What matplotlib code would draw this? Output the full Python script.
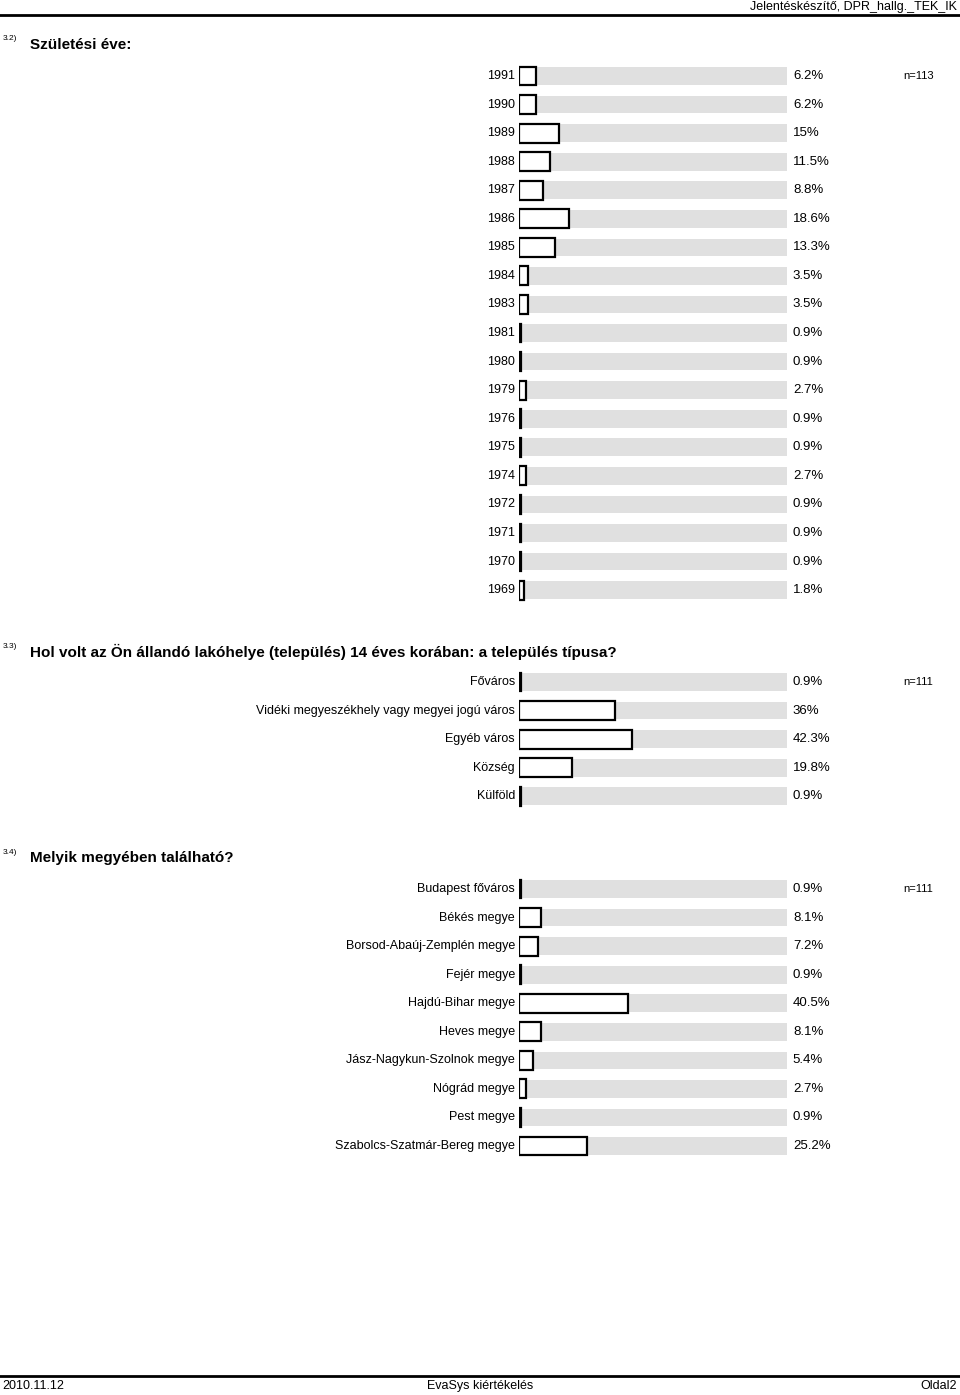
import matplotlib
matplotlib.use('Agg')
import matplotlib.pyplot as plt

plt.rcParams['font.family'] = ['Liberation Sans', 'DejaVu Sans']

# 3.2) Születési éve
evek = ['1991', '1990', '1989', '1988', '1987', '1986', '1985', '1984', '1983', '1981',
        '1980', '1979', '1976', '1975', '1974', '1972', '1971', '1970', '1969']
evek_pct = [6.2, 6.2, 15, 11.5, 8.8, 18.6, 13.3, 3.5, 3.5, 0.9,
            0.9, 2.7, 0.9, 0.9, 2.7, 0.9, 0.9, 0.9, 1.8]
evek_lbl = ['6.2%', '6.2%', '15%', '11.5%', '8.8%', '18.6%', '13.3%', '3.5%', '3.5%', '0.9%',
            '0.9%', '2.7%', '0.9%', '0.9%', '2.7%', '0.9%', '0.9%', '0.9%', '1.8%']

# 3.3) település típusa
tipus = ['Főváros', 'Vidéki megyeszékhely vagy megyei jogú város', 'Egyéb város', 'Község', 'Külföld']
tipus_pct = [0.9, 36, 42.3, 19.8, 0.9]
tipus_lbl = ['0.9%', '36%', '42.3%', '19.8%', '0.9%']

# 3.4) megye
megyek = ['Budapest főváros', 'Békés megye', 'Borsod-Abaúj-Zemplén megye', 'Fejér megye',
          'Hajdú-Bihar megye', 'Heves megye', 'Jász-Nagykun-Szolnok megye', 'Nógrád megye',
          'Pest megye', 'Szabolcs-Szatmár-Bereg megye']
megyek_pct = [0.9, 8.1, 7.2, 0.9, 40.5, 8.1, 5.4, 2.7, 0.9, 25.2]
megyek_lbl = ['0.9%', '8.1%', '7.2%', '0.9%', '40.5%', '8.1%', '5.4%', '2.7%', '0.9%', '25.2%']

W, H = 960, 1395
fig = plt.figure(figsize=(W / 100, H / 100), dpi=100)

# háttér-tengely pixel koordinátákkal a szövegekhez
bg = fig.add_axes([0, 0, 1, 1])
bg.set_xlim(0, W)
bg.set_ylim(H, 0)
bg.axis('off')

# fejléc / lábléc
bg.plot([0, W], [15, 15], color='black', lw=2)
bg.text(957, 7, 'Jelentéskészítő, DPR_hallg._TEK_IK', ha='right', va='center', fontsize=9)
bg.plot([0, W], [1376, 1376], color='black', lw=2)
bg.text(2, 1386, '2010.11.12', ha='left', va='center', fontsize=9)
bg.text(480, 1386, 'EvaSys kiértékelés', ha='center', va='center', fontsize=9)
bg.text(957, 1386, 'Oldal2', ha='right', va='center', fontsize=9)

SPACING = 28.56
X0, XW = 519, 268


def szekcio(szam, cim, y_cim, cats, vals, lbls, y_first, n_txt):
    bg.text(3, y_cim - 6, szam, ha='left', va='center', fontsize=6)
    bg.text(30, y_cim, cim, ha='left', va='center', fontsize=11, fontweight='bold')
    top = y_first - SPACING / 2
    h = SPACING * len(cats)
    ax = fig.add_axes([X0 / W, 1 - (top + h) / H, XW / W, h / H])
    idx = list(range(len(cats)))
    ax.barh(idx, [100] * len(cats), height=0.62, color='#e0e0e0', lw=0)
    ax.barh(idx, vals, height=0.66, facecolor='white', edgecolor='black', lw=1.6)
    ax.set_xlim(0, 100)
    ax.set_ylim(len(cats) - 0.5, -0.5)
    ax.axis('off')
    for i, (c, l) in enumerate(zip(cats, lbls)):
        ax.text(-1.5, i, c, ha='right', va='center', fontsize=9)
        ax.text(2.2 + 100, i, l, ha='left', va='center', fontsize=9.5)
    ax.text(143.5, 0, n_txt, ha='left', va='center', fontsize=8)


szekcio('3.2)', 'Születési éve:', 45, evek, evek_pct, evek_lbl, 76, 'n=113')
szekcio('3.3)', 'Hol volt az Ön állandó lakóhelye (település) 14 éves korában: a település típusa?',
        652, tipus, tipus_pct, tipus_lbl, 682, 'n=111')
szekcio('3.4)', 'Melyik megyében található?', 858, megyek, megyek_pct, megyek_lbl, 889, 'n=111')

fig.savefig('out.png', dpi=100)
